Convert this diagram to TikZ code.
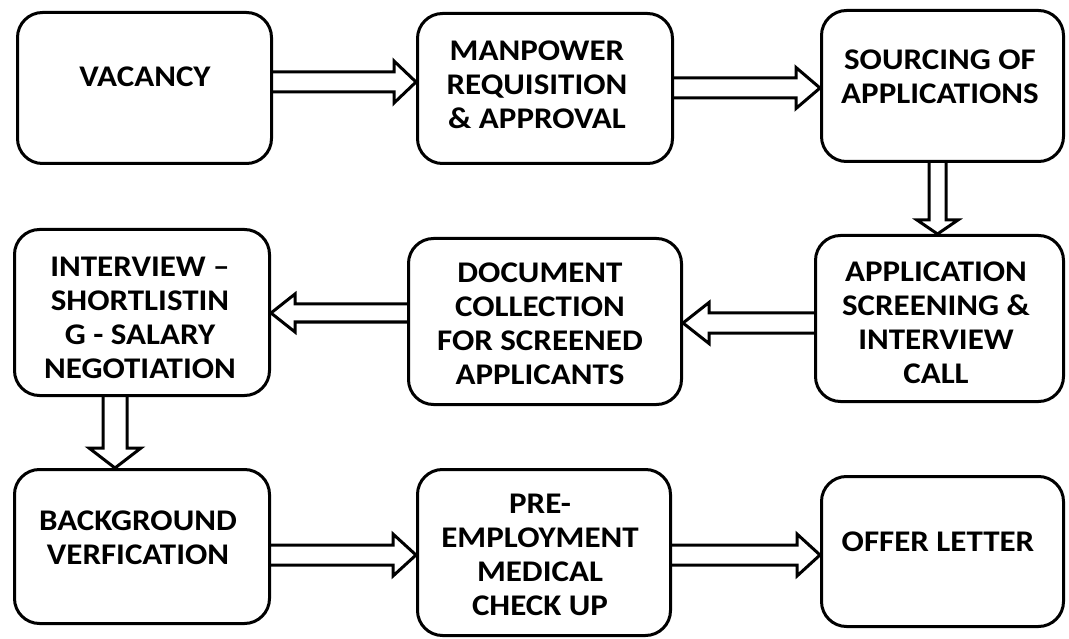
\documentclass[tikz,border=0pt]{standalone}
\usepackage{fontspec}
\setmainfont{Carlito}[FakeStretch=1.1]
\usetikzlibrary{calc}
\tikzset{
  box/.style={draw=black, line width=3pt, rounded corners=25pt, fill=white, inner sep=0pt},
  lbl/.style={align=center, font=\fontsize{30}{34}\selectfont\bfseries, text=black, inner sep=0pt},
  blk/.style={draw=black, line width=3pt, line join=miter}
}
% right arrow: from, to, y, shaft half, head half, head length
\newcommand{\rarr}[6]{%
  \path (#1.east |- 0,#3) coordinate (s) (#2.west |- 0,#3) coordinate (t);
  \draw[blk] ([yshift=#4pt]s) -- ([xshift=-#6pt,yshift=#4pt]t) -- ([xshift=-#6pt,yshift=#5pt]t) -- (t)
     -- ([xshift=-#6pt,yshift=-#5pt]t) -- ([xshift=-#6pt,yshift=-#4pt]t) -- ([yshift=-#4pt]s);}
\newcommand{\larr}[6]{%
  \path (#1.west |- 0,#3) coordinate (s) (#2.east |- 0,#3) coordinate (t);
  \draw[blk] ([yshift=#4pt]s) -- ([xshift=#6pt,yshift=#4pt]t) -- ([xshift=#6pt,yshift=#5pt]t) -- (t)
     -- ([xshift=#6pt,yshift=-#5pt]t) -- ([xshift=#6pt,yshift=-#4pt]t) -- ([yshift=-#4pt]s);}
\newcommand{\darr}[6]{%
  \path (#1.south -| #3,0) coordinate (s) (#2.north -| #3,0) coordinate (t);
  \draw[blk] ([xshift=#4pt]s) -- ([yshift=#6pt,xshift=#4pt]t) -- ([yshift=#6pt,xshift=#5pt]t) -- (t)
     -- ([yshift=#6pt,xshift=-#5pt]t) -- ([yshift=#6pt,xshift=-#4pt]t) -- ([xshift=-#4pt]s);}
\begin{document}
\begin{tikzpicture}[x=1pt,y=-1pt]
\useasboundingbox[fill=white] (0,0) rectangle (1069,639);
% boxes
\node[box, minimum width=254pt, minimum height=151pt] (vac) at (144.5,88) {};
\node[box, minimum width=255pt, minimum height=150pt] (man) at (545,88.5) {};
\node[box, minimum width=242pt, minimum height=151pt] (src) at (942.5,86) {};
\node[box, minimum width=248pt, minimum height=166pt] (app) at (939.5,318.5) {};
\node[box, minimum width=273pt, minimum height=166pt] (doc) at (545,321.5) {};
\node[box, minimum width=255pt, minimum height=166pt] (intv) at (142,312.5) {};
\node[box, minimum width=255pt, minimum height=154pt] (bg) at (142,546.5) {};
\node[box, minimum width=253pt, minimum height=166pt] (pre) at (544,552.5) {};
\node[box, minimum width=242pt, minimum height=150pt] (off) at (942.5,551.5) {};
% texts
\node[lbl] (vac-t) at (145,77) {VACANCY};
\node[lbl] (man-t) at (537,84.5) {MANPOWER\\REQUISITION\\\& APPROVAL};
\node[lbl] (src-t) at (940,76.5) {SOURCING OF\\APPLICATIONS};
\node[lbl] (app-t) at (936,323) {APPLICATION\\SCREENING \&\\INTERVIEW\\CALL};
\node[lbl] (doc-t) at (540,323.5) {DOCUMENT\\COLLECTION\\FOR SCREENED\\APPLICANTS};
\node[lbl] (intv-t) at (140,318) {INTERVIEW –\\SHORTLISTIN\\G - SALARY\\NEGOTIATION};
\node[lbl] (bg-t) at (138,538) {BACKGROUND\\VERFICATION};
\node[lbl] (pre-t) at (540,554.5) {PRE-\\EMPLOYMENT\\MEDICAL\\CHECK UP};
\node[lbl] (off-t) at (938,542) {OFFER LETTER};
% arrows
\rarr{vac}{man}{82}{10}{21}{22}
\rarr{man}{src}{88}{10}{20.5}{24}
\darr{src}{app}{937.5}{8.5}{20.5}{14}
\larr{app}{doc}{323}{10}{20.5}{26}
\larr{doc}{intv}{313}{9}{19}{24}
\darr{intv}{bg}{115}{12}{26}{20}
\rarr{bg}{pre}{555}{10}{21}{23}
\rarr{pre}{off}{555}{10}{21}{23}
\end{tikzpicture}
\end{document}
